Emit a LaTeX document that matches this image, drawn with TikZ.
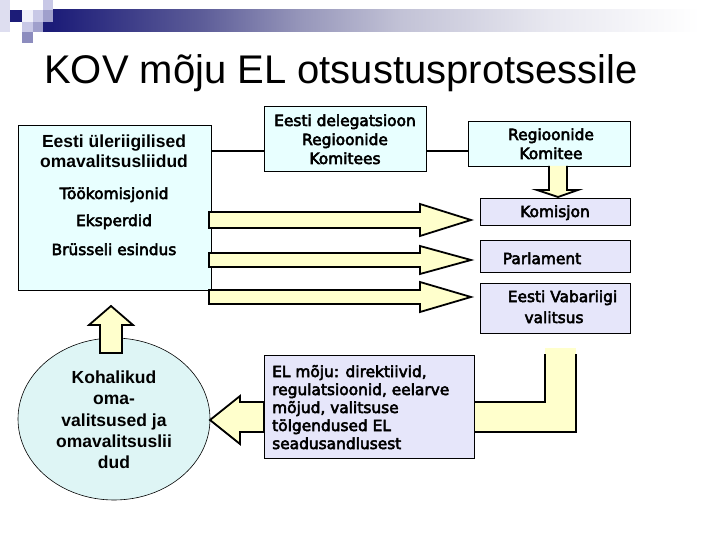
\documentclass[tikz,border=0pt]{standalone}
\usepackage{fontspec}
\setmainfont{Liberation Sans}
\newfontfamily\vfont[FakeBold=3.5]{DejaVu Sans}
\usetikzlibrary{shapes.geometric}
\definecolor{navy}{RGB}{28,28,120}
\definecolor{hmA}{RGB}{92,92,152}
\definecolor{hmB}{RGB}{150,150,186}
\definecolor{hmC}{RGB}{194,194,214}
\definecolor{hmD}{RGB}{232,232,240}
\definecolor{sqA}{RGB}{222,222,240}
\definecolor{sqB}{RGB}{240,240,250}
\definecolor{sqC}{RGB}{200,200,230}
\definecolor{sqD}{RGB}{160,160,204}
\definecolor{sqE}{RGB}{140,140,190}
\definecolor{boxcyan}{RGB}{232,255,255}
\definecolor{ellcyan}{RGB}{222,245,245}
\definecolor{lav}{RGB}{230,230,250}
\definecolor{yel}{RGB}{255,255,204}
\pgfdeclarehorizontalshading{hdr}{100bp}{color(0bp)=(navy); color(25.7bp)=(navy); color(36.6bp)=(hmA); color(44bp)=(hmB); color(51.4bp)=(hmC); color(62.4bp)=(hmD); color(73.5bp)=(white); color(100bp)=(white)}
\tikzset{
  bx/.style={draw=black, line width=0.9pt, inner sep=0pt, rectangle},
  cyanbox/.style={bx, fill=boxcyan},
  lavbox/.style={bx, fill=lav},
  yarrow/.style={fill=yel, draw=black, line width=1.8pt},
  conn/.style={draw=black, line width=2.5pt},
  bigtxt/.style={font=\bfseries\fontsize{17.5}{21}\selectfont, anchor=base, inner sep=0pt},
  vertxt/.style={font=\vfont\fontsize{15.4}{18}\selectfont, anchor=base, inner sep=0pt},
}
\begin{document}
\begin{tikzpicture}[x=1pt,y=-1pt]
\useasboundingbox (0,0) rectangle (720,540);
% header decoration
\shade[shading=hdr] (43,10) rectangle (720,32);
\fill[sqA] (0,0) rectangle (10,32);
\fill[navy] (10,10) rectangle (22,22);
\fill[sqB] (22,10) rectangle (33,22);
\fill[sqC] (33,10) rectangle (43,22);
\fill[sqC] (43,0) rectangle (53,10);
\fill[sqD] (43,10) rectangle (53,22);
\fill[sqC] (22,22) rectangle (33,32);
\fill[sqD] (33,22) rectangle (43,32);
\fill[navy] (43,22) rectangle (53,32);
\fill[sqE] (22,32) rectangle (33,43);
% title
\node[anchor=base, inner sep=0pt, font=\fontsize{40}{48}\selectfont] (title) at (341,84) {KOV mõju EL otsustusprotsessile};

% boxes
\node[cyanbox, minimum width=193pt, minimum height=165pt] (left) at (114.5,207.5) {};
\node[cyanbox, minimum width=162pt, minimum height=65pt] (deleg) at (345,138.5) {};
\node[cyanbox, minimum width=162pt, minimum height=45pt] (rk) at (549,143.5) {};

% connectors between top boxes
\coordinate (cy) at (0,151);
\draw[conn] (left.east |- cy) -- (deleg.west |- cy);
\draw[conn] (deleg.east |- cy) -- (rk.west |- cy);

% down arrow from Regioonide Komitee to Komisjon
\draw[yarrow] (549,166) -- (549,190) -- (537,190) -- (558,197) -- (578,190) -- (567,190) -- (567,166);

\node[lavbox, minimum width=150pt, minimum height=27pt] (kom) at (555,211.5) {};
\node[lavbox, minimum width=150pt, minimum height=32pt] (parl) at (555,256) {};
\node[lavbox, minimum width=150pt, minimum height=50pt] (val) at (555,308) {};

% horizontal block arrows
\draw[yarrow] (209,212) -- (420,212) -- (420,204) -- (471,220) -- (420,236) -- (420,228) -- (209,228) -- cycle;
\draw[yarrow] (209,253) -- (420,253) -- (420,246) -- (471,260) -- (420,274) -- (420,267) -- (209,267) -- cycle;
\draw[yarrow] (209,290) -- (420,290) -- (420,282) -- (471,297) -- (420,312) -- (420,304) -- (209,304) -- cycle;

% ellipse
\node[ellipse, draw=black, line width=0.6pt, fill=ellcyan, minimum width=192pt, minimum height=162pt, inner sep=0pt] (ell) at (114,419) {};
% up arrow
\draw[yarrow] (100,353) -- (100,325) -- (89,325) -- (111,306) -- (133,325) -- (122,325) -- (122,353) -- cycle;

% elbow arrow from valitsus to EL box
\fill[yel] (545,348) rectangle (576,432);
\fill[yel] (474,402) rectangle (576,432);
\draw[black, line width=1.8pt] (545,354) -- (545,402) -- (474,402);
\draw[black, line width=1.8pt] (576,354) -- (576,432) -- (474,432);

% left arrow to ellipse
\draw[yarrow] (264,402) -- (240,402) -- (240,396) -- (210,420) -- (240,444) -- (240,432) -- (264,432) -- cycle;

\node[lavbox, minimum width=210pt, minimum height=103pt] (el) at (369,406.5) {};

% texts
\node[bigtxt] (t1) at (114,148) {Eesti üleriigilised};
\node[bigtxt] (t2) at (114,168) {omavalitsusliidud};
\node[vertxt] (t3) at (114,199) {Töökomisjonid};
\node[vertxt] (t4) at (114,226) {Eksperdid};
\node[vertxt] (t5) at (114,255) {Brüsseli esindus};

\node[vertxt] (d1) at (345,126) {Eesti delegatsioon};
\node[vertxt] (d2) at (345,145) {Regioonide};
\node[vertxt] (d3) at (345,164) {Komitees};

\node[vertxt] (r1) at (551,140) {Regioonide};
\node[vertxt] (r2) at (551,159) {Komitee};

\node[vertxt] (k1) at (555,217) {Komisjon};
\node[vertxt] (p1) at (542,264) {Parlament};
\node[vertxt] (v1) at (562.5,302) {Eesti Vabariigi};
\node[vertxt] (v2) at (554,323) {valitsus};

\node[vertxt, anchor=base west] (e1) at (272,377) {EL mõju: direktiivid,};
\node[vertxt, anchor=base west] (e2) at (272,395) {regulatsioonid, eelarve};
\node[vertxt, anchor=base west] (e3) at (272,413) {mõjud, valitsuse};
\node[vertxt, anchor=base west] (e4) at (272,431) {tölgendused EL};
\node[vertxt, anchor=base west] (e5) at (272,449) {seadusandlusest};

\node[bigtxt] (o1) at (114,383) {Kohalikud};
\node[bigtxt] (o2) at (114,404.5) {oma-};
\node[bigtxt] (o3) at (114,426) {valitsused ja};
\node[bigtxt] (o4) at (114,447) {omavalitsuslii};
\node[bigtxt] (o5) at (114,468) {dud};
\end{tikzpicture}
\end{document}
